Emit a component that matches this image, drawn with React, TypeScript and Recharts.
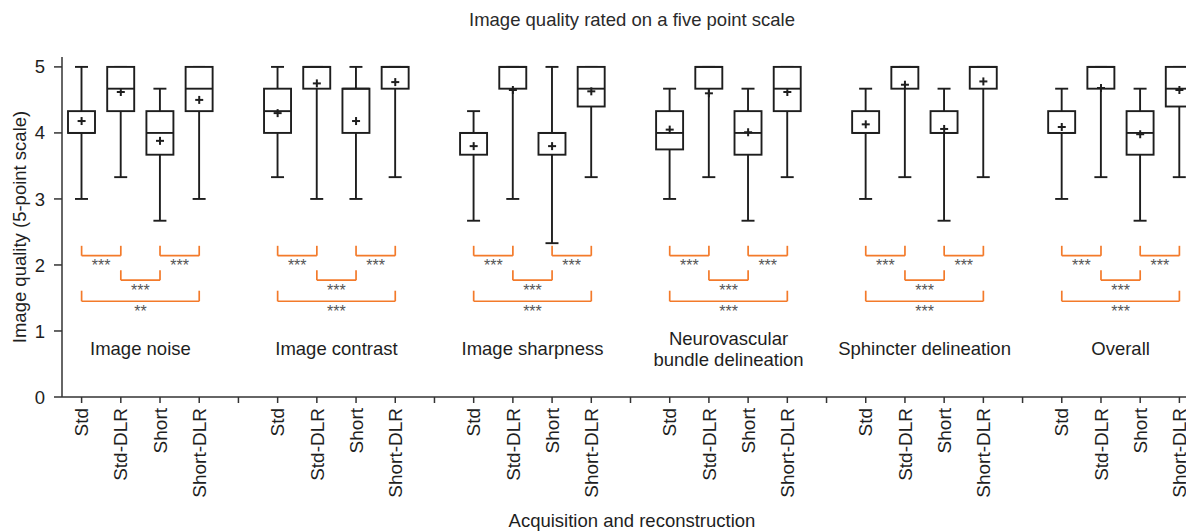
import { Bar, ComposedChart, ReferenceLine, Scatter, XAxis, YAxis } from "recharts";

const GROUPS = [
  "Image noise",
  "Image contrast",
  "Image sharpness",
  "Neurovascular\nbundle delineation",
  "Sphincter delineation",
  "Overall",
];
const METHODS = ["Std", "Std-DLR", "Short", "Short-DLR"];

// per group: Std, Std-DLR, Short, Short-DLR
const WHISKER_LOW = [
  [3, 3.33, 2.67, 3],
  [3.33, 3, 3, 3.33],
  [2.67, 3, 2.33, 3.33],
  [3, 3.33, 2.67, 3.33],
  [3, 3.33, 2.67, 3.33],
  [3, 3.33, 2.67, 3.33],
];
const WHISKER_HIGH = [
  [5, 5, 4.67, 5],
  [5, 5, 5, 5],
  [4.33, 5, 5, 5],
  [4.67, 5, 4.67, 5],
  [4.67, 5, 4.67, 5],
  [4.67, 5, 4.67, 5],
];
const Q1 = [
  [4, 4.33, 3.67, 4.33],
  [4, 4.67, 4, 4.67],
  [3.67, 4.67, 3.67, 4.4],
  [3.75, 4.67, 3.67, 4.33],
  [4, 4.67, 4, 4.67],
  [4, 4.67, 3.67, 4.4],
];
const Q3 = [
  [4.33, 5, 4.33, 5],
  [4.67, 5, 4.67, 5],
  [4, 5, 4, 5],
  [4.33, 5, 4.33, 5],
  [4.33, 5, 4.33, 5],
  [4.33, 5, 4.33, 5],
];
const MEDIAN = [
  [4, 4.67, 4, 4.67],
  [4.33, 5, 4.67, 5],
  [4, 5, 4, 4.67],
  [4, 5, 4, 4.67],
  [4, 5, 4, 5],
  [4, 5, 4, 4.67],
];
const MEAN = [
  [4.18, 4.62, 3.88, 4.5],
  [4.3, 4.75, 4.18, 4.77],
  [3.8, 4.65, 3.8, 4.63],
  [4.05, 4.6, 4.01, 4.62],
  [4.13, 4.73, 4.06, 4.78],
  [4.09, 4.68, 3.98, 4.65],
];
// Std vs Std-DLR, Short vs Short-DLR, Std-DLR vs Short, Std vs Short-DLR
const SIG = [
  ["***", "***", "***", "**"],
  ["***", "***", "***", "***"],
  ["***", "***", "***", "***"],
  ["***", "***", "***", "***"],
  ["***", "***", "***", "***"],
  ["***", "***", "***", "***"],
];
const Y_TICKS = [0, 1, 2, 3, 4, 5];

const BRACKETS = [
  { from: 0, to: 1, low: 2.14, high: 2.29 },
  { from: 2, to: 3, low: 2.14, high: 2.29 },
  { from: 1, to: 2, low: 1.77, high: 1.92 },
  { from: 0, to: 3, low: 1.45, high: 1.61 },
];
const GROUP_LABEL_Y = 0.73;

const INK = "#1e1e1e";
const ORANGE = "#f37a2a";
const FONT = "'Liberation Sans', Arial, Helvetica, sans-serif";
const LABEL_SIZE = 18.5;

type Slot = {
  key: string;
  label: string;
  range?: [number, number];
  q1?: number;
  q3?: number;
  median?: number;
  mean?: number;
};

const slots: Slot[] = [];
GROUPS.forEach((_, gi) => {
  METHODS.forEach((m, mi) => {
    slots.push({
      key: `${gi}-${mi}`,
      label: m,
      range: [WHISKER_LOW[gi][mi], WHISKER_HIGH[gi][mi]],
      q1: Q1[gi][mi],
      q3: Q3[gi][mi],
      median: MEDIAN[gi][mi],
      mean: MEAN[gi][mi],
    });
  });
  if (gi < GROUPS.length - 1) slots.push({ key: `gap-${gi}`, label: "" });
});
const labelByKey: Record<string, string> = Object.fromEntries(slots.map((s) => [s.key, s.label]));

function BoxShape(props: any) {
  const { x, y, width, height } = props;
  const d: Slot = props.payload ?? props;
  if (!d || d.q1 == null || d.range == null || !height) return null;
  const [lo, hi] = d.range;
  const top = Math.min(y, y + height);
  const bottom = Math.max(y, y + height);
  const py = (v: number) => bottom - ((v - lo) / (hi - lo)) * (bottom - top);
  const cx = x + width / 2;
  const cap = 6.5;
  return (
    <g stroke={INK} strokeWidth={1.9} fill="none">
      <line x1={cx} x2={cx} y1={py(hi)} y2={py(d.q3!)} />
      <line x1={cx} x2={cx} y1={py(d.q1)} y2={py(lo)} />
      <line x1={cx - cap} x2={cx + cap} y1={py(hi)} y2={py(hi)} />
      <line x1={cx - cap} x2={cx + cap} y1={py(lo)} y2={py(lo)} />
      <rect x={x} y={py(d.q3!)} width={width} height={py(d.q1) - py(d.q3!)} fill="#fff" />
      <line x1={x} x2={x + width} y1={py(d.median!)} y2={py(d.median!)} />
    </g>
  );
}

function MeanMark(props: any) {
  const { cx, cy } = props;
  if (cx == null || cy == null || Number.isNaN(cy)) return null;
  return (
    <g stroke={INK} strokeWidth={2}>
      <line x1={cx - 4} x2={cx + 4} y1={cy} y2={cy} />
      <line x1={cx} x2={cx} y1={cy - 4} y2={cy + 4} />
    </g>
  );
}

function CategoryTick(props: any) {
  const { x, y, payload } = props;
  const label = labelByKey[payload?.value] ?? "";
  return (
    <text
      transform={`translate(${x},${y + 3}) rotate(-90)`}
      textAnchor="end"
      dy="0.35em"
      fontSize={19}
      fontFamily={FONT}
      fill={INK}
    >
      {label}
    </text>
  );
}

function groupLabel(text: string) {
  return (p: any) => {
    const vb = p.viewBox ?? { x: 0, y: 0, width: 0 };
    const cx = vb.x + vb.width / 2;
    const lines = text.split("\n");
    return (
      <text x={cx} y={vb.y} textAnchor="middle" fontSize={LABEL_SIZE} fontFamily={FONT} fill={INK}>
        {lines.map((ln, i) => (
          <tspan key={i} x={cx} dy={i === 0 ? `${0.35 - ((lines.length - 1) * 1.13) / 2}em` : "1.13em"}>
            {ln}
          </tspan>
        ))}
      </text>
    );
  };
}

function YTitle(p: any) {
  const vb = p.viewBox ?? { x: 0, y: 49, width: 54, height: 340 };
  const cx = vb.x + 12;
  const cy = vb.y + vb.height / 2;
  return (
    <text
      transform={`translate(${cx},${cy}) rotate(-90)`}
      textAnchor="middle"
      dy="0.35em"
      fontSize={LABEL_SIZE}
      fontFamily={FONT}
      fill={INK}
    >
      Image quality (5-point scale)
    </text>
  );
}

export default function App() {
  return (
    <div
      style={{
        width: 1186,
        height: 523,
        overflow: "hidden",
        position: "relative",
        background: "#fff",
        fontFamily: FONT,
      }}
    >
      <div
        style={{
          position: "absolute",
          left: 624,
          top: 12,
          transform: "translate(-50%, -50%)",
          whiteSpace: "nowrap",
          fontSize: LABEL_SIZE,
          color: "#2a2a2a",
        }}
      >
        Image quality rated on a five point scale
      </div>
      <div
        style={{
          position: "absolute",
          left: 624,
          top: 513,
          transform: "translate(-50%, -50%)",
          whiteSpace: "nowrap",
          fontSize: LABEL_SIZE,
          color: INK,
          zIndex: 2,
        }}
      >
        Acquisition and reconstruction
      </div>
      <ComposedChart width={1192} height={523} data={slots} margin={{ top: 49, right: 1, bottom: 0, left: 0 }}>
        <XAxis
          dataKey="key"
          type="category"
          interval={0}
          height={134}
          tickSize={6}
          tick={(p: any) => <CategoryTick {...p} />}
          axisLine={{ stroke: "#333", strokeWidth: 1.5 }}
          tickLine={{ stroke: "#333", strokeWidth: 1.5 }}
        />
        <YAxis
          type="number"
          domain={[0, 5.15]}
          ticks={Y_TICKS}
          width={54}
          tickSize={8}
          tickMargin={9}
          tick={{ fontSize: LABEL_SIZE, fill: INK, fontFamily: FONT }}
          axisLine={{ stroke: "#333", strokeWidth: 1.5 }}
          tickLine={{ stroke: "#333", strokeWidth: 1.5 }}
          label={YTitle}
        />
        <Bar dataKey="range" barSize={27} shape={BoxShape} isAnimationActive={false} />
        <Scatter dataKey="mean" shape={MeanMark} isAnimationActive={false} />
        {GROUPS.map((g, gi) => (
          <ReferenceLine
            key={`gl-${gi}`}
            segment={[
              { x: `${gi}-1`, y: GROUP_LABEL_Y },
              { x: `${gi}-2`, y: GROUP_LABEL_Y },
            ]}
            stroke="none"
            label={groupLabel(g)}
          />
        ))}
        {GROUPS.flatMap((_, gi) =>
          BRACKETS.map((b, bi) => {
            const a = `${gi}-${b.from}`;
            const c = `${gi}-${b.to}`;
            return [
              <ReferenceLine
                key={`bh-${gi}-${bi}`}
                segment={[
                  { x: a, y: b.low },
                  { x: c, y: b.low },
                ]}
                stroke={ORANGE}
                strokeWidth={1.7}
                label={{ value: SIG[gi][bi], position: "bottom", offset: 4, fill: "#555", fontSize: 16, fontFamily: FONT }}
              />,
              <ReferenceLine
                key={`bl-${gi}-${bi}`}
                segment={[
                  { x: a, y: b.low },
                  { x: a, y: b.high },
                ]}
                stroke={ORANGE}
                strokeWidth={1.7}
              />,
              <ReferenceLine
                key={`br-${gi}-${bi}`}
                segment={[
                  { x: c, y: b.low },
                  { x: c, y: b.high },
                ]}
                stroke={ORANGE}
                strokeWidth={1.7}
              />,
            ];
          }),
        )}
      </ComposedChart>
    </div>
  );
}
